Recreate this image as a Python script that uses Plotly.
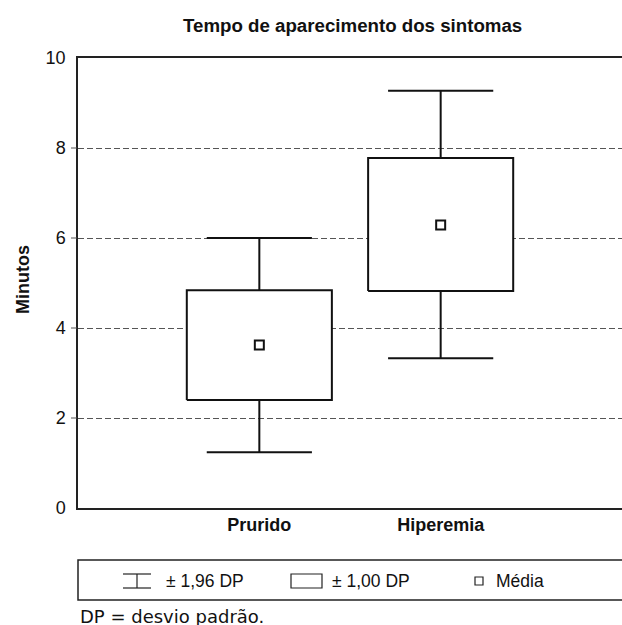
import plotly.graph_objects as go

# Data (minutes)
categories = ["Prurido", "Hiperemia"]
mean_vals = [3.62, 6.29]
sd1_low = [2.40, 4.82]
sd1_high = [4.84, 7.78]
sd196_low = [1.24, 3.33]
sd196_high = [6.00, 9.27]
y_ticks = [0, 2, 4, 6, 8, 10]
grid_vals = [2, 4, 6, 8]

W, H = 622, 625
L, R, T, B = 78, 0, 58, 117
plot_w = W - L - R
plot_h = H - T - B

def px(x):
    return (x - L) / plot_w

def py(y):
    return (H - B - y) / plot_h

BOX_HALF = 0.40
CAP_HALF = 0.29
LINE = "#111111"
FONT = "Liberation Sans, Arial, sans-serif"
DASH = "6px,3px"

fig = go.Figure()

for i, cat in enumerate(categories):
    x = i
    # whiskers (± 1.96 SD)
    fig.add_trace(go.Scatter(
        x=[x, x, None, x, x, None, x - CAP_HALF, x + CAP_HALF, None, x - CAP_HALF, x + CAP_HALF],
        y=[sd196_low[i], sd1_low[i], None, sd1_high[i], sd196_high[i], None,
           sd196_high[i], sd196_high[i], None, sd196_low[i], sd196_low[i]],
        mode="lines", line=dict(color=LINE, width=2), showlegend=False, hoverinfo="skip"))
    # box (± 1.00 SD)
    fig.add_trace(go.Scatter(
        x=[x - BOX_HALF, x + BOX_HALF, x + BOX_HALF, x - BOX_HALF, x - BOX_HALF],
        y=[sd1_low[i], sd1_low[i], sd1_high[i], sd1_high[i], sd1_low[i]],
        mode="lines", fill="toself", fillcolor="white",
        line=dict(color=LINE, width=2), showlegend=False, hoverinfo="skip"))
    # mean
    fig.add_trace(go.Scatter(
        x=[x], y=[mean_vals[i]], mode="markers",
        marker=dict(symbol="square-open", size=9, color=LINE, line=dict(width=2)),
        showlegend=False, hoverinfo="skip"))

shapes = []
annotations = []

# dashed tick stubs left of the axis (continuation of the grid)
for g in grid_vals:
    shapes.append(dict(type="line", xref="paper", yref="y", x0=px(71), x1=0, y0=g, y1=g,
                       line=dict(color="#555", width=1, dash=DASH)))

# Legend box
lg_top, lg_bot = 560, 600
shapes.append(dict(type="rect", xref="paper", yref="paper",
                   x0=0, x1=px(640), y0=py(lg_bot), y1=py(lg_top),
                   line=dict(color="#222", width=1.5), fillcolor="rgba(0,0,0,0)"))
ly = 581
# whisker icon
shapes.append(dict(type="line", xref="paper", yref="paper",
                   x0=px(123), x1=px(151), y0=py(ly - 7), y1=py(ly - 7), line=dict(color="#222", width=1.2)))
shapes.append(dict(type="line", xref="paper", yref="paper",
                   x0=px(123), x1=px(151), y0=py(ly + 7), y1=py(ly + 7), line=dict(color="#222", width=1.2)))
shapes.append(dict(type="line", xref="paper", yref="paper",
                   x0=px(137), x1=px(137), y0=py(ly - 7), y1=py(ly + 7), line=dict(color="#222", width=1.2)))
# box icon
shapes.append(dict(type="rect", xref="paper", yref="paper",
                   x0=px(291), x1=px(322), y0=py(ly + 7), y1=py(ly - 7),
                   line=dict(color="#222", width=1.2)))
# mean icon
shapes.append(dict(type="rect", xref="paper", yref="paper",
                   x0=px(475), x1=px(483), y0=py(ly + 4), y1=py(ly - 4),
                   line=dict(color="#222", width=1.2)))

for txt, x0 in [("± 1,96 DP", 164), ("± 1,00 DP", 330), ("Média", 494)]:
    annotations.append(dict(text=txt, xref="paper", yref="paper", x=px(x0), y=py(ly),
                            xanchor="left", yanchor="middle", showarrow=False,
                            font=dict(family=FONT, size=17.5, color="#111")))

annotations.append(dict(text="DP = desvio padrão.", xref="paper", yref="paper",
                        x=px(78), y=py(604), xanchor="left", yanchor="top", showarrow=False,
                        font=dict(family="DejaVu Sans, Verdana, sans-serif", size=18, color="#111")))

annotations.append(dict(text="<b>Minutos</b>", xref="paper", yref="paper",
                        x=px(23), y=py(280), xanchor="center", yanchor="middle", textangle=-90,
                        showarrow=False, font=dict(family=FONT, size=18, color="#111")))

annotations.append(dict(text="<b>Tempo de aparecimento dos sintomas</b>", xref="paper", yref="paper",
                        x=px(352), y=py(25), xanchor="center", yanchor="middle",
                        showarrow=False, font=dict(family=FONT, size=18.7, color="#111")))

fig.update_layout(
    width=W, height=H,
    margin=dict(l=L, r=R, t=T, b=B, pad=0),
    paper_bgcolor="white", plot_bgcolor="white",
    showlegend=False,
    shapes=shapes, annotations=annotations,
    xaxis=dict(range=[-1, 2], tickvals=list(range(len(categories))),
               ticktext=["<b>%s</b>" % c for c in categories],
               tickfont=dict(family=FONT, size=18, color="#111"),
               showgrid=False, zeroline=False, showline=True, mirror=True,
               linecolor="#222", linewidth=1.5, ticks="", fixedrange=True),
    yaxis=dict(range=[0, 10], tickvals=y_ticks,
               tickfont=dict(family=FONT, size=18, color="#111"),
               showgrid=True, gridcolor="#555", griddash=DASH, gridwidth=1,
               zeroline=False, showline=True, linecolor="#222", linewidth=1.5,
               ticks="", ticklabelstandoff=7,
               fixedrange=True),
)

fig.write_html("out.html", config={"displayModeBar": False},
               post_script="document.body.style.margin='0';document.body.style.overflow='hidden';")
